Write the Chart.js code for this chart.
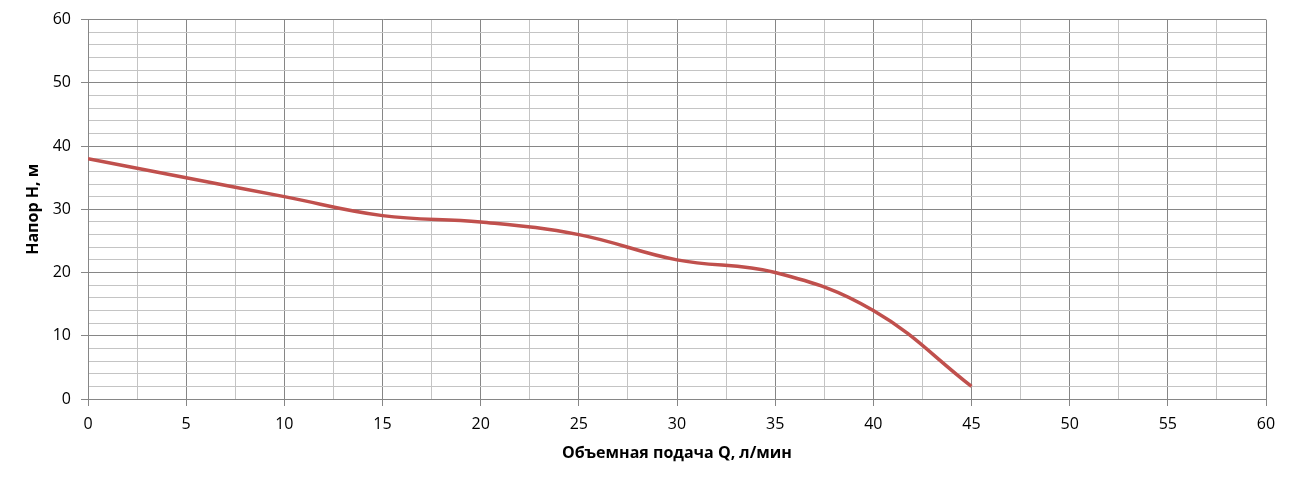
<!DOCTYPE html>
<html>
<head>
<meta charset="utf-8">
<script src="https://cdn.jsdelivr.net/npm/chart.js@4"></script>
<style>
  html, body { margin: 0; padding: 0; background: #fff; }
  #wrap { width: 1302px; height: 484px; }
</style>
</head>
<body>
<div id="wrap"><canvas id="pumpChart"></canvas></div>
<script>
// Q, л/мин and H, м
const flowQ = [0, 5, 10, 15, 20, 25, 30, 35, 40, 45];
const headH = [38, 35, 32, 29, 28, 26, 22, 20, 14, 2];

const majorGrid = '#868686';
const minorGrid = '#c4c4c4';
const tickFont = { family: "'Open Sans', sans-serif", size: 16 };
const titleFont = { family: "'Open Sans', sans-serif", size: 16, weight: 'bold' };

const points = flowQ.map((q, i) => ({ x: q, y: headH[i] }));

const ctx = document.getElementById('pumpChart').getContext('2d');
new Chart(ctx, {
  type: 'line',
  data: {
    datasets: [{
      label: 'H',
      data: points,
      borderColor: '#c0504d',
      borderWidth: 3.5,
      pointRadius: 0,
      tension: 0.4,
      fill: false
    }]
  },
  options: {
    responsive: true,
    maintainAspectRatio: false,
    animation: false,
    layout: { padding: { left: 20, right: 36, top: 19, bottom: 17 } },
    plugins: { legend: { display: false }, tooltip: { enabled: false } },
    scales: {
      x: {
        type: 'linear',
        min: 0,
        max: 60,
        afterFit: (scale) => { scale.height = 68; },
        ticks: {
          stepSize: 2.5,
          autoSkip: false,
          maxRotation: 0,
          padding: 9,
          color: '#000',
          font: tickFont,
          callback: (v) => (v % 5 === 0 ? v : '')
        },
        grid: {
          color: (c) => (c.tick && c.tick.value % 5 === 0 ? majorGrid : minorGrid),
          tickColor: (c) => (c.tick && c.tick.value % 5 === 0 ? majorGrid : 'rgba(0,0,0,0)'),
          tickLength: 7
        },
        border: { color: majorGrid },
        title: {
          display: true,
          text: 'Объемная подача Q, л/мин',
          color: '#000',
          font: titleFont,
          padding: { top: 10 }
        }
      },
      y: {
        min: 0,
        max: 60,
        afterFit: (scale) => { scale.width = 68; },
        ticks: {
          stepSize: 2,
          autoSkip: false,
          padding: 10,
          color: '#000',
          font: tickFont,
          callback: (v) => (v % 10 === 0 ? v : '')
        },
        grid: {
          color: (c) => (c.tick && c.tick.value % 10 === 0 ? majorGrid : minorGrid),
          tickColor: (c) => (c.tick && c.tick.value % 10 === 0 ? majorGrid : 'rgba(0,0,0,0)'),
          tickLength: 7
        },
        border: { color: majorGrid },
        title: {
          display: true,
          text: 'Напор H, м',
          color: '#000',
          font: titleFont,
          padding: { bottom: 4 }
        }
      }
    }
  }
});
</script>
</body>
</html>
